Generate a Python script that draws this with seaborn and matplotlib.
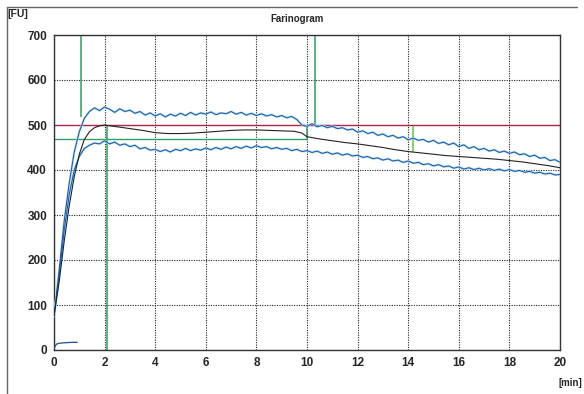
import numpy as np
import pandas as pd
import matplotlib
matplotlib.use("Agg")
import matplotlib.pyplot as plt
from matplotlib.lines import Line2D
import seaborn as sns

# ---- data ----
t_band = [round(0.2 * i, 1) for i in range(101)]
upper = [75, 175, 285, 370, 440, 485, 515, 530, 538, 532,
         540, 535, 528, 536, 530, 533, 526, 530, 522, 527,
         520, 525, 518, 524, 520, 526, 521, 528, 522, 527,
         524, 529, 523, 527, 525, 530, 524, 528, 522, 526,
         521, 525, 520, 523, 518, 521, 516, 519, 512, 500,
         497, 503, 496, 499, 494, 497, 492, 494, 489, 491,
         484, 487, 481, 484, 477, 480, 474, 477, 471, 474,
         467, 471, 466, 468, 462, 466, 459, 462, 456, 460,
         452, 456, 448, 452, 445, 448, 442, 445, 439, 442,
         437, 440, 434, 436, 430, 433, 426, 428, 421, 423, 417]
lower = [75, 165, 265, 345, 400, 430, 448, 455, 460, 458,
         465, 458, 462, 455, 458, 452, 455, 447, 450, 444,
         446, 441, 445, 440, 446, 443, 448, 443, 447, 444,
         449, 445, 450, 446, 451, 447, 452, 448, 453, 449,
         454, 450, 452, 447, 450, 446, 448, 443, 446, 441,
         443, 439, 442, 437, 440, 435, 438, 433, 436, 431,
         433, 428, 430, 425, 427, 422, 425, 420, 422, 417,
         420, 415, 417, 412, 414, 409, 412, 407, 409, 404,
         407, 402, 405, 401, 404, 400, 403, 399, 402, 398,
         401, 397, 399, 395, 397, 393, 395, 391, 393, 389, 390]
t_mid = [0, 0.2, 0.4, 0.6, 0.8, 1.0, 1.2, 1.4, 1.6, 1.8, 2.0, 2.5, 3, 3.5, 4,
         4.5, 5, 5.5, 6, 6.5, 7, 7.5, 8, 8.5, 9, 9.5, 9.8, 10, 10.5, 11, 11.5,
         12, 12.5, 13, 13.5, 14, 14.5, 15, 15.5, 16, 16.5, 17, 17.5, 18, 18.5,
         19, 19.5, 20]
middle = [75, 150, 240, 320, 385, 435, 468, 485, 494, 498, 500, 496, 492, 488,
          483, 481, 481, 482, 484, 486, 488, 489, 489, 488, 487, 486, 482, 474,
          469, 465, 461, 458, 454, 450, 445, 441, 438, 435, 432, 430, 428, 426,
          424, 421, 418, 414, 410, 405]
t_small = [0, 0.05, 0.1, 0.2, 0.4, 0.7, 0.92]
small = [3, 9, 13, 15, 16, 17, 17]

consistency_line = 500
tolerance_line = 470
tolerance_end = 10.0
green_vlines = [(1.07, 518, 700), (2.1, 0, 500), (10.3, 500, 700), (10.0, 470, 500)]
light_vline = (14.2, 440, 498)

x_ticks = list(range(0, 21, 2))
y_ticks = list(range(0, 701, 100))

# ---- plot ----
sns.set_style("white")
plt.rcParams['font.family'] = ['Liberation Sans', 'DejaVu Sans']

fig = plt.figure(figsize=(5.84, 3.94), dpi=100)
ax = fig.add_axes([54 / 584, 1 - 350 / 394, (560 - 54) / 584, (350 - 35) / 394])

bands = pd.DataFrame({"t": t_band, "upper": upper, "lower": lower})
mid = pd.DataFrame({"t": t_mid, "v": middle})
sm = pd.DataFrame({"t": t_small, "v": small})

ax.grid(True, color="#222222", linestyle=(0, (1, 1.2)), linewidth=0.8)
ax.set_axisbelow(True)

ax.axhline(consistency_line, color="#b3284f", lw=1.0, zorder=2)
ax.hlines(tolerance_line, 0, tolerance_end, color="#2e9e6a", lw=1.0, zorder=2)
for x, y0, y1 in green_vlines:
    ax.vlines(x, y0, y1, color="#2e9e5e", lw=1.1, zorder=2)
ax.vlines(light_vline[0], light_vline[1], light_vline[2], color="#66c844", lw=1.1, zorder=2)

for col in ["upper", "lower"]:
    sns.lineplot(data=bands, x="t", y=col, ax=ax, color="#a6e0f0", lw=1.6,
                 estimator=None, sort=False, zorder=3)
    sns.lineplot(data=bands, x="t", y=col, ax=ax, color="#1f4fa8", lw=0.7,
                 estimator=None, sort=False, zorder=4)
sns.lineplot(data=mid, x="t", y="v", ax=ax, color="#222222", lw=0.8,
             estimator=None, sort=False, zorder=5)
sns.lineplot(data=sm, x="t", y="v", ax=ax, color="#1f4f8a", lw=0.9,
             estimator=None, sort=False, zorder=5)

ax.set_xlim(0, 20)
ax.set_ylim(0, 700)
ax.set_xticks(x_ticks)
ax.set_yticks(y_ticks)
ax.set_xlabel("")
ax.set_ylabel("")
ax.tick_params(axis="both", which="both", length=3, width=0.8, color="#333333",
               labelsize=8.5, pad=2, direction="out")
ax.tick_params(axis="x", length=0, pad=5)
for lab in ax.get_xticklabels() + ax.get_yticklabels():
    lab.set_fontweight("bold")
for s in ax.spines.values():
    s.set_color("#333333")
    s.set_linewidth(1.0)
    s.set_visible(True)

fig.text(297 / 584, 1 - 19 / 394, "Farinogram", ha="center", va="center",
         fontsize=7, fontweight="bold")
fig.text(7 / 584, 1 - 14 / 394, "[FU]", ha="left", va="center",
         fontsize=7.5, fontweight="bold")
fig.text(582 / 584, 1 - 383 / 394, "[min]", ha="right", va="center",
         fontsize=7, fontweight="bold")

fig.add_artist(Line2D([7 / 584, 7 / 584], [0, 1 - 7 / 394], color="#666666", lw=1.0))
fig.add_artist(Line2D([7 / 584, 577 / 584], [1 - 7 / 394, 1 - 7 / 394], color="#666666", lw=1.0))

fig.savefig("out.png", dpi=100)
